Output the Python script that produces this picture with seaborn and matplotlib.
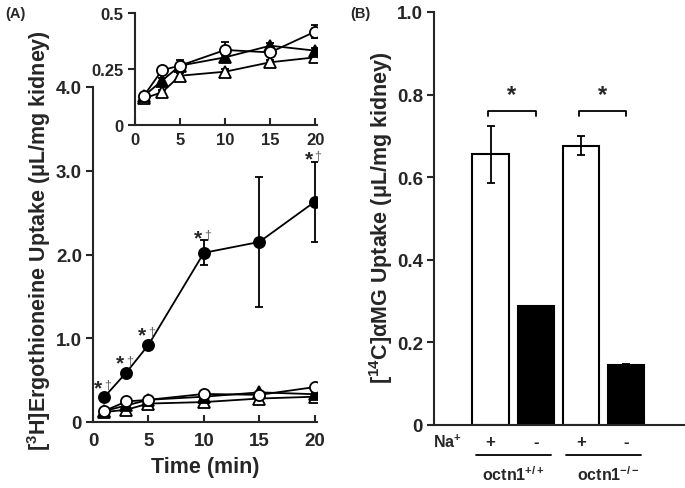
import numpy as np
import pandas as pd
import seaborn as sns
import matplotlib
matplotlib.use("Agg")
import matplotlib.pyplot as plt

# ---- data (A) ----
time = [1, 3, 5, 10, 15, 20]
wt_na = [0.295, 0.59, 0.92, 2.02, 2.15, 2.63]          # filled circles
wt_na_err = [0.03, 0.03, 0.04, 0.15, 0.78, 0.48]
wt_nona = [0.131, 0.245, 0.265, 0.335, 0.324, 0.417]   # open circles
wt_nona_err = [0.005, 0.005, 0.025, 0.035, 0.01, 0.03]
ko_na = [0.13, 0.198, 0.265, 0.302, 0.354, 0.332]      # filled triangles
ko_na_err = [0.005, 0.01, 0.01, 0.01, 0.01, 0.01]
ko_nona = [0.119, 0.146, 0.22, 0.238, 0.28, 0.302]     # open triangles
ko_nona_err = [0.005, 0.01, 0.01, 0.01, 0.01, 0.01]
sig_times = [1, 3, 5, 10, 20]

# ---- data (B) ----
groups = ["wt +", "wt -", "ko +", "ko -"]
amg = [0.655, 0.288, 0.676, 0.145]
amg_err = [0.069, 0.0, 0.023, 0.002]
na_signs = ["+", "-", "+", "-"]
genotypes = [r"octn1$^{\mathbf{+/+}}$", r"octn1$^{\mathbf{-/-}}$"]

sns.set_style("ticks")
plt.rcParams["font.family"] = ["Liberation Sans", "DejaVu Sans"]
plt.rcParams["font.weight"] = "bold"
plt.rcParams["mathtext.fontset"] = "custom"
plt.rcParams["mathtext.rm"] = "Liberation Sans:bold"
plt.rcParams["mathtext.bf"] = "Liberation Sans:bold"
plt.rcParams["mathtext.it"] = "Liberation Sans:bold"
plt.rcParams["axes.linewidth"] = 1.5

fig = plt.figure(figsize=(6.85, 4.89), dpi=100)
ax = fig.add_axes([93 / 685, 1 - 423 / 489, 224 / 685, 335 / 489])
ins = fig.add_axes([135 / 685, 1 - 126 / 489, 182 / 685, 112 / 489])
bx = fig.add_axes([434 / 685, 1 - 426 / 489, 250 / 685, 413 / 489])

series = [
    (wt_na, wt_na_err, "o", "black"),
    (wt_nona, wt_nona_err, "o", "white"),
    (ko_na, ko_na_err, "^", "black"),
    (ko_nona, ko_nona_err, "^", "white"),
]


def draw_series(a, vals, errs, marker, face, ms):
    sns.lineplot(x=time, y=vals, ax=a, color="black", lw=1.3, marker=marker,
                 markersize=ms, markerfacecolor=face, markeredgecolor="black",
                 markeredgewidth=1.3, zorder=3)
    a.errorbar(time, vals, yerr=errs, fmt="none", ecolor="black",
               elinewidth=1.3, capsize=3, capthick=1.3, zorder=2)


for vals, errs, m, f in series[::-1]:
    draw_series(ax, vals, errs, m, f, 8)
for vals, errs, m, f in series[:0:-1]:
    draw_series(ins, vals, errs, m, f, 8)

ax.set_xlim(0, 20.2)
ax.set_ylim(0, 4.0)
ax.set_xticks([0, 5, 10, 15, 20])
ax.set_yticks([0, 1, 2, 3, 4])
ax.set_yticklabels(["0", "1.0", "2.0", "3.0", "4.0"])
ax.tick_params(axis="x", direction="in", length=5, width=1.5, labelsize=13.5, pad=7)
ax.tick_params(axis="y", direction="out", length=5, width=1.5, labelsize=13.5, pad=3)
ax.set_xlabel("Time (min)", fontsize=15.5, fontweight="bold", labelpad=5)
sns.despine(ax=ax)

for t in sig_times:
    v = wt_na[time.index(t)] + wt_na_err[time.index(t)]
    off = 0.08 if t in (1, 3, 5) else 0.03
    ax.text(t - 0.55, v + off, "*", fontsize=15, ha="center", va="center")
    ax.text(t + 0.3, v + off + 0.04, "†", fontsize=9, ha="center",
            va="center", color="#666666", fontweight="normal")

ins.set_xlim(0, 20.2)
ins.set_ylim(0, 0.5)
ins.set_xticks([0, 5, 10, 15, 20])
ins.set_yticks([0, 0.25, 0.5])
ins.set_yticklabels(["0", "0.25", "0.5"])
ins.tick_params(axis="x", direction="in", length=5, width=1.5, labelsize=12, pad=5)
ins.tick_params(axis="y", direction="out", length=5, width=1.5, labelsize=12)
ins.patch.set_alpha(0)
sns.despine(ax=ins)

fig.text(39 / 685, 1 - 241 / 489,
         r"[$^{\mathbf{3}}$H]Ergothioneine Uptake (μL/mg kidney)",
         rotation=90, ha="center", va="center", fontsize=15.5, fontweight="bold")
fig.text(5 / 685, 1 - 14 / 489, "(A)", fontsize=10.5, fontweight="bold", va="center")
fig.text(350 / 685, 1 - 14 / 489, "(B)", fontsize=10.5, fontweight="bold", va="center")

# ---- panel B ----
df = pd.DataFrame({"group": groups, "amg": amg})
sns.barplot(data=df, x="group", y="amg", hue="group", order=groups,
            palette=["white", "black", "white", "black"], edgecolor="black",
            linewidth=1.5, width=0.8, legend=False, ax=bx, errorbar=None)
pos = np.arange(len(groups))
bx.errorbar(pos, amg, yerr=amg_err, fmt="none", ecolor="black", elinewidth=1.3,
            capsize=3, capthick=1.3)
bx.set_xlim(-1.25, 4.28)
bx.set_ylim(0, 1.0)
bx.set_yticks([0, 0.2, 0.4, 0.6, 0.8, 1.0])
bx.set_yticklabels(["0", "0.2", "0.4", "0.6", "0.8", "1.0"])
bx.set_xticks([])
bx.set_xlabel("")
bx.set_ylabel("")
bx.tick_params(axis="y", direction="out", length=5, width=1.5, labelsize=13.5, pad=3)
sns.despine(ax=bx)

for a0, a1 in [(0, 1), (2, 3)]:
    x0, x1 = pos[a0] - 0.05, pos[a1] + 0.0
    bx.plot([x0, x0, x1, x1], [0.748, 0.76, 0.76, 0.748], color="black", lw=1.3,
            clip_on=False)
    bx.text((x0 + x1) / 2, 0.8, "*", fontsize=17, ha="center", va="center")

fig.text(381 / 685, 1 - 218 / 489,
         r"[$^{\mathbf{14}}$C]αMG Uptake (μL/mg kidney)",
         rotation=90, ha="center", va="center", fontsize=15.5, fontweight="bold")

trans = bx.get_xaxis_transform()
bx.text(-0.95, -0.04, r"Na$^{\mathbf{+}}$", transform=trans, fontsize=11.5,
        ha="center", va="center")
for p, s in zip(pos, na_signs):
    bx.text(p, -0.04, s, transform=trans, fontsize=12, ha="center", va="center")
for i, g in enumerate(genotypes):
    c = 2 * i + 0.5
    bx.plot([c - 0.83, c + 0.83], [-0.073, -0.073], transform=trans, color="black",
            lw=1.3, clip_on=False)
    bx.text(c + 0.1 * i, -0.118, g, transform=trans, fontsize=11.5,
            ha="center", va="center")

fig.savefig("out.png", dpi=100)
